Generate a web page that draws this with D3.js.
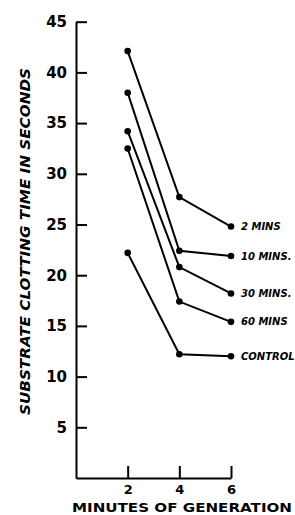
<!DOCTYPE html>
<html>
<head>
<meta charset="utf-8">
<script src="https://cdn.jsdelivr.net/npm/d3@7"></script>
<style>
  body { margin: 0; background: #fff; }
  svg { display: block; }
  text { font-family: "DejaVu Sans", sans-serif; font-weight: bold; fill: #000; }
</style>
</head>
<body>
<svg id="chart"></svg>
<script>
// minutes of generation (x) and the clotting times
var minutes = [2, 4, 6];
var seriesNames = ["2 MINS", "10 MINS.", "30 MINS.", "60 MINS", "CONTROL"];
var mins2 = [42.1, 27.7, 24.8];
var mins10 = [38.0, 22.4, 21.9];
var mins30 = [34.2, 20.8, 18.2];
var mins60 = [32.5, 17.4, 15.4];
var control = [22.2, 12.2, 12.0];
var yTicks = [5, 10, 15, 20, 25, 30, 35, 40, 45];
var xTicks = [2, 4, 6];

var allSeries = [mins2, mins10, mins30, mins60, control];

var svgWidth = 295;
var svgHeight = 515;

var svg = d3.select('#chart')
  .attr("width", svgWidth)
  .attr("height", svgHeight);

var x = d3.scaleLinear().domain([0, 6]).range([76, 231]);
var y = d3.scaleLinear().domain([0, 45]).range([478, 21.7]);

// y axis, ticks pointing inward
var yAxis = svg.append("g")
  .attr("transform", "translate(" + x(0) + ",0)")
  .call(d3.axisLeft(y).tickValues(yTicks).tickFormat(d3.format("d"))
    .tickSizeInner(-11).tickSizeOuter(0).tickPadding(9));

// x axis, ticks pointing up
var xAxis = svg.append("g")
  .attr("transform", "translate(0," + y(0) + ")")
  .call(d3.axisBottom(x).tickValues(xTicks).tickFormat(d3.format("d"))
    .tickSizeInner(-12).tickSizeOuter(0).tickPadding(7));

svg.selectAll(".domain, .tick line")
  .attr("stroke", "#000")
  .attr("stroke-width", 2);

yAxis.selectAll("text")
  .style("font-size", "15px")
  .style("font-family", "DejaVu Sans, sans-serif")
  .style("font-weight", "bold");

xAxis.selectAll("text")
  .style("font-size", "13px")
  .style("font-family", "DejaVu Sans, sans-serif")
  .style("font-weight", "bold");

var line = d3.line()
  .x(function (d, i) { return x(minutes[i]); })
  .y(function (d) { return y(d); });

var groups = svg.selectAll(".series")
  .data(allSeries)
  .enter()
  .append("g")
  .attr("class", "series");

groups.append("path")
  .attr("d", function (d) { return line(d); })
  .attr("fill", "none")
  .attr("stroke", "#000")
  .attr("stroke-width", 2);

groups.selectAll("circle")
  .data(function (d) { return d; })
  .enter()
  .append("circle")
  .attr("cx", function (d, i) { return x(minutes[i]); })
  .attr("cy", function (d) { return y(d); })
  .attr("r", 3.3)
  .attr("fill", "#000");

// labels at the right end of each line
groups.append("text")
  .attr("x", x(6) + 10)
  .attr("y", function (d) { return y(d[d.length - 1]); })
  .attr("dy", "0.36em")
  .style("font-size", "10px")
  .style("font-style", "italic")
  .text(function (d, i) { return seriesNames[i]; });

// axis titles
svg.append("text")
  .attr("transform", "translate(30," + 241.5 + ") rotate(-90)")
  .attr("text-anchor", "middle")
  .attr("textLength", 347)
  .attr("lengthAdjust", "spacingAndGlyphs")
  .style("font-size", "14px")
  .style("font-style", "italic")
  .text("SUBSTRATE  CLOTTING  TIME  IN  SECONDS");

svg.append("text")
  .attr("x", 72)
  .attr("y", 512)
  .attr("textLength", 220)
  .attr("lengthAdjust", "spacingAndGlyphs")
  .style("font-size", "13px")
  .text("MINUTES OF GENERATION");
</script>
</body>
</html>
